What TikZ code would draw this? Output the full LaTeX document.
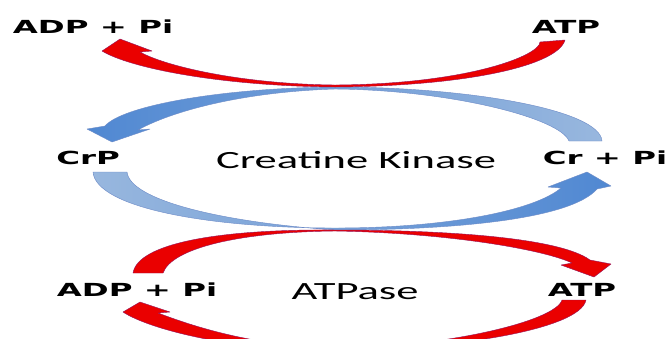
\documentclass[tikz,border=0pt]{standalone}
\usepackage{fontspec}
\newfontfamily\lblfont{DejaVu Sans}[FakeStretch=1.8]
\newfontfamily\enzfont{Carlito}[FakeStretch=1.8]
\definecolor{CRED}{RGB}{234,0,0}
\definecolor{CREDG}{RGB}{150,20,90}
\definecolor{CBLU}{RGB}{80,136,210}
\definecolor{CBLP}{RGB}{152,183,222}
\definecolor{CBLG}{RGB}{110,140,200}
\definecolor{CTXT}{RGB}{0,0,0}

\begin{document}
\begin{tikzpicture}[x=0.025cm,y=-0.025cm,
  lbl/.style={font=\lblfont\bfseries\fontsize{12.8pt}{14pt}\selectfont,text=CTXT,inner sep=0pt},
  enz/.style={font=\enzfont\fontsize{17.6pt}{20pt}\selectfont,text=CTXT,inner sep=0pt},
  redarc/.style={fill=CRED,draw=CREDG,line width=0.3pt,line join=round},
  bluarc/.style={draw=CBLG,line width=0.3pt,line join=round}]
  % — page frame
  \useasboundingbox (0,0) rectangle (670,338);
  \fill[white] (0,0) rectangle (670,338);
  \clip (0,0) rectangle (670,338);
  % — creatine kinase loop
  \shade[bluarc,left color=CBLU,right color=CBLP] (105,126) .. controls (122,106) and (220,88) .. (335,87)
    .. controls (470,87) and (600,110) .. (602,141) -- (569,141)
    .. controls (560,118) and (450,90) .. (335,89)
    .. controls (240,92) and (170,112) .. (138,130)
    -- (150,129) -- (112,142) -- (87,129) -- cycle;
  \path[redarc] (565,40) .. controls (558,65) and (470,86) .. (335,87)
    .. controls (220,86) and (130,68) .. (102,51)
    -- (120,39) -- (152,51) -- (140,52)
    .. controls (165,66) and (240,84) .. (335,85)
    .. controls (470,84) and (540,55) .. (540,42) -- cycle;
  \shade[bluarc,left color=CBLP,right color=CBLU] (93,172) .. controls (96,208) and (210,228) .. (335,228)
    .. controls (450,228) and (535,210) .. (561,188)
    -- (548,187) -- (587,172) -- (611,186) -- (597,189)
    .. controls (570,220) and (450,230) .. (335,230)
    .. controls (220,222) and (130,200) .. (127,172) -- cycle;
  % — ATPase loop
  \path[redarc] (133,273) .. controls (138,243) and (220,229) .. (335,230)
    .. controls (450,230) and (560,238) .. (590,260)
    -- (611,264) -- (594,277) -- (561,265) -- (572,263)
    .. controls (545,250) and (450,233) .. (335,231)
    .. controls (240,232) and (172,248) .. (163,273) -- cycle;
  \path[redarc] (586,300) .. controls (580,330) and (450,350) .. (335,350)
    .. controls (240,352) and (150,330) .. (123,312)
    -- (140,302) -- (170,312) -- (158,313)
    .. controls (190,325) and (250,346) .. (335,348)
    .. controls (440,348) and (555,322) .. (562,300) -- cycle;
  % — labels
  \node[lbl] (adpTop) at (93,26.5) {ADP + Pi};
  \node[lbl] (atpTop) at (566,26.5) {ATP};
  \node[lbl] (crp) at (88,158) {CrP};
  \node[lbl] (crpi) at (605,158) {Cr + Pi};
  \node[enz] (ck) at (356,160) {Creatine Kinase};
  \node[lbl] (adpBot) at (137,290) {ADP + Pi};
  \node[enz] (atpase) at (355,292) {ATPase};
  \node[lbl] (atpBot) at (582,290) {ATP};
\end{tikzpicture}
\end{document}
